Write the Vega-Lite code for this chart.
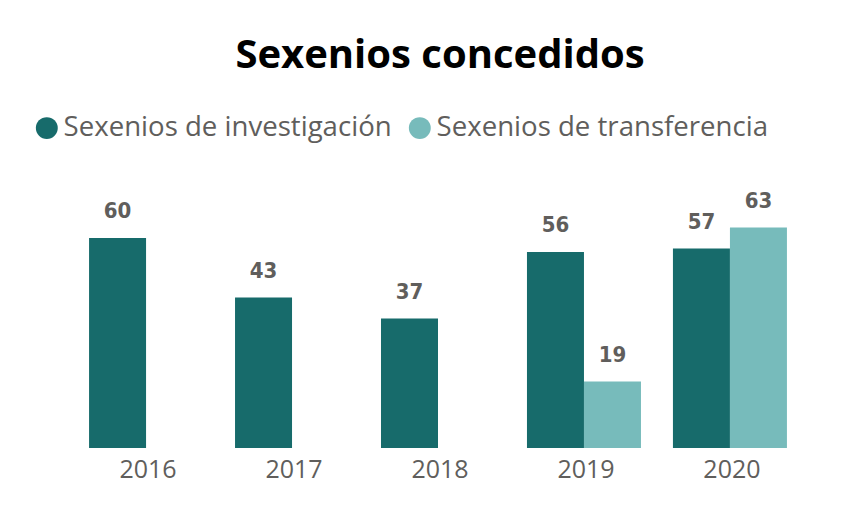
{
  "$schema": "https://vega.github.io/schema/vega-lite/v6.json",
  "autosize": "none",
  "width": 730,
  "height": 245,
  "padding": {"left": 73, "top": 203, "right": 48, "bottom": 65},
  "background": "white",
  "title": {
    "text": "Sexenios concedidos",
    "font": "Open Sans",
    "fontSize": 40,
    "fontWeight": "bold",
    "color": "#000000",
    "anchor": "middle",
    "dx": 2,
    "offset": 38
  },
  "data": {
    "values": [
      {"year": "2016", "tipo": "Sexenios de investigación", "valor": 60},
      {"year": "2017", "tipo": "Sexenios de investigación", "valor": 43},
      {"year": "2018", "tipo": "Sexenios de investigación", "valor": 37},
      {"year": "2019", "tipo": "Sexenios de investigación", "valor": 56},
      {"year": "2019", "tipo": "Sexenios de transferencia", "valor": 19},
      {"year": "2020", "tipo": "Sexenios de investigación", "valor": 57},
      {"year": "2020", "tipo": "Sexenios de transferencia", "valor": 63}
    ]
  },
  "encoding": {
    "x": {
      "field": "year", "type": "nominal", "title": null,
      "scale": {"paddingInner": 0.219, "paddingOuter": 0.11},
      "axis": {"domain": false, "ticks": false, "labelAngle": 0, "labelFont": "Open Sans", "labelFontSize": 25, "labelColor": "#605E5C", "labelPadding": 9, "labelOffset": 2}
    },
    "xOffset": {
      "field": "tipo", "type": "nominal",
      "scale": {"domain": ["Sexenios de investigación", "Sexenios de transferencia"], "paddingInner": 0}
    },
    "y": {
      "field": "valor", "type": "quantitative", "title": null,
      "scale": {"domain": [0, 70]},
      "axis": null
    }
  },
  "layer": [
    {
      "mark": {"type": "bar"},
      "encoding": {
        "color": {
          "field": "tipo", "type": "nominal", "title": null,
          "scale": {"domain": ["Sexenios de investigación", "Sexenios de transferencia"], "range": ["#176B6B", "#77BBBB"]},
          "legend": {
            "orient": "none", "direction": "horizontal",
            "legendX": -40, "legendY": -89,
            "symbolType": "circle", "symbolSize": 480, "symbolStrokeWidth": 0,
            "labelFont": "Open Sans", "labelFontSize": 27.6, "labelColor": "#605E5C",
            "labelOffset": 3, "columnPadding": 14, "labelLimit": 500
          }
        }
      }
    },
    {
      "mark": {"type": "text", "baseline": "bottom", "dy": -15, "font": "DejaVu Sans Condensed", "fontWeight": "bold", "fontSize": 22, "color": "#605E5C"},
      "encoding": {"text": {"field": "valor", "type": "quantitative"}}
    }
  ],
  "config": {"view": {"stroke": null}}
}
